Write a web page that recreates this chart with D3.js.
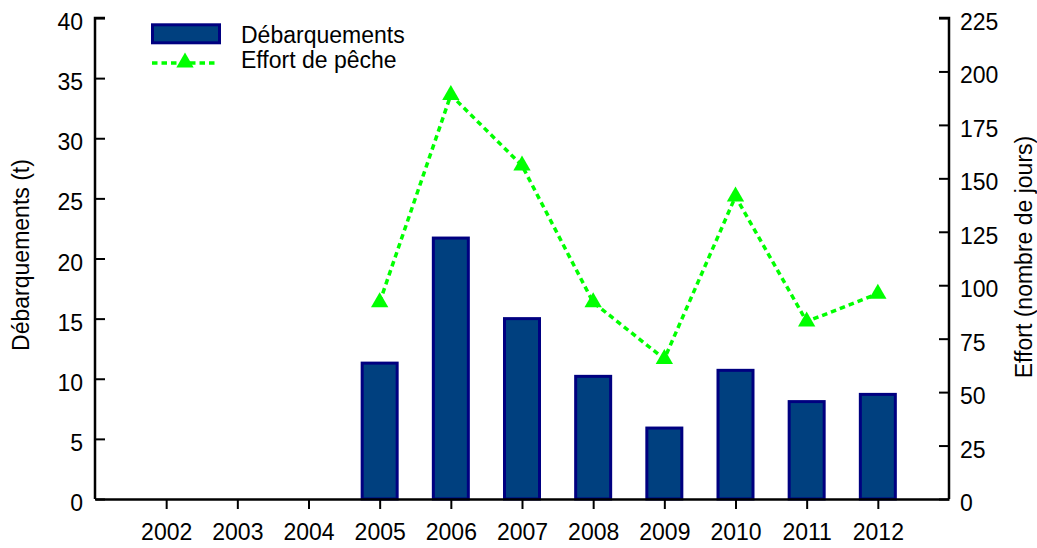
<!DOCTYPE html>
<html>
<head>
<meta charset="utf-8">
<script src="https://cdn.jsdelivr.net/npm/d3@7"></script>
<style>
  body { margin: 0; background: #fff; }
  svg { font-family: "Liberation Sans", Arial, sans-serif; }
</style>
</head>
<body>
<div id="chart"></div>
<script>
const years = ["2002", "2003", "2004", "2005", "2006", "2007", "2008", "2009", "2010", "2011", "2012"];
const debarquements = [null, null, null, 11.3, 21.7, 15.0, 10.2, 5.9, 10.7, 8.1, 8.7];
const effort = [null, null, null, 92, 189, 156, 92, 65.5, 141.5, 83, 96];
const leftTicks = [0, 5, 10, 15, 20, 25, 30, 35, 40];
const rightTicks = [0, 25, 50, 75, 100, 125, 150, 175, 200, 225];

const width = 1037;
const height = 548;
const margin = { top: 18, right: 88, bottom: 49, left: 95 };
const fontSize = 23;

const svg = d3
  .select("#chart")
  .append("svg")
  .attr("width", width)
  .attr("height", height);

const x = d3
  .scalePoint()
  .domain(years)
  .range([margin.left, width - margin.right])
  .padding(1);

const yL = d3.scaleLinear([0, 40], [height - margin.bottom, margin.top]);
const yR = d3.scaleLinear([0, 225], [height - margin.bottom, margin.top]);

const barW = 35;

// bars
svg
  .append("g")
  .selectAll("rect")
  .data(years.map((y, i) => ({ year: y, v: debarquements[i] })).filter((d) => d.v != null))
  .join("rect")
  .attr("x", (d) => x(d.year) - barW / 2)
  .attr("y", (d) => yL(d.v))
  .attr("width", barW)
  .attr("height", (d) => yL(0) - yL(d.v))
  .attr("fill", "#00407F")
  .attr("stroke", "#000080")
  .attr("stroke-width", 3);

// effort line
const pts = years.map((y, i) => ({ year: y, v: effort[i] })).filter((d) => d.v != null);
const line = d3
  .line()
  .x((d) => x(d.year))
  .y((d) => yR(d.v));

svg
  .append("path")
  .attr("fill", "none")
  .attr("stroke", "#00FF00")
  .attr("stroke-width", 3.5)
  .attr("stroke-dasharray", "5.5,4")
  .attr("d", line(pts));

const tri = d3.symbol().type(d3.symbolTriangle).size(130);
svg
  .append("g")
  .selectAll("path")
  .data(pts)
  .join("path")
  .attr("transform", (d) => `translate(${x(d.year)},${yR(d.v)})`)
  .attr("d", tri)
  .attr("fill", "#00FF00");

function styleText(g) {
  g.selectAll(".tick text")
    .attr("font-size", fontSize)
    .attr("font-family", "Liberation Sans, Arial, sans-serif")
    .attr("fill", "#000");
}

// left axis
svg
  .append("g")
  .attr("transform", `translate(${margin.left},0)`)
  .call(d3.axisRight(yL).tickValues(leftTicks).tickSize(10))
  .call((g) => g.select(".domain").attr("d", `M10,${margin.top}H0V${yL(0)}`).attr("stroke-width", 2.5))
  .call((g) => g.selectAll(".tick line").attr("stroke-width", 2))
  .call(styleText)
  .call((g) => g.selectAll(".tick text").attr("x", -12).attr("dy", "0.5em").attr("text-anchor", "end"));

// right axis
svg
  .append("g")
  .attr("transform", `translate(${width - margin.right},0)`)
  .call(d3.axisLeft(yR).tickValues(rightTicks).tickSize(10))
  .call((g) => g.select(".domain").attr("d", `M-10,${margin.top}H0V${yR(0)}`).attr("stroke-width", 2.5))
  .call((g) => g.selectAll(".tick line").attr("stroke-width", 2))
  .call(styleText)
  .call((g) => g.selectAll(".tick text").attr("x", 11).attr("dy", "0.5em").attr("text-anchor", "start"));

// bottom axis
svg
  .append("g")
  .attr("transform", `translate(0,${height - margin.bottom})`)
  .call(d3.axisBottom(x).tickSize(10).tickSizeOuter(0))
  .call((g) => g.select(".domain").attr("stroke-width", 2.5))
  .call((g) => g.selectAll(".tick line").attr("stroke-width", 2))
  .call(styleText)
  .call((g) => g.selectAll(".tick text").attr("y", 40.5).attr("dy", 0));

// axis titles
svg
  .append("text")
  .attr("transform", `translate(29,255) rotate(-90)`)
  .attr("text-anchor", "middle")
  .attr("font-size", fontSize)
  .text("Débarquements (t)");

svg
  .append("text")
  .attr("transform", `translate(1032,257) rotate(-90)`)
  .attr("text-anchor", "middle")
  .attr("font-size", fontSize)
  .text("Effort (nombre de jours)");

// legend
const lg = svg.append("g");
lg.append("rect")
  .attr("x", 152.5)
  .attr("y", 24.8)
  .attr("width", 67)
  .attr("height", 18)
  .attr("fill", "#00407F")
  .attr("stroke", "#000080")
  .attr("stroke-width", 3);
lg.append("text").attr("x", 241).attr("y", 43).attr("font-size", fontSize).text("Débarquements");

lg.append("line")
  .attr("x1", 152)
  .attr("x2", 216)
  .attr("y1", 63)
  .attr("y2", 63)
  .attr("stroke", "#00FF00")
  .attr("stroke-width", 3.5)
  .attr("stroke-dasharray", "5.5,4");
lg.append("path")
  .attr("transform", "translate(185,62.5)")
  .attr("d", tri)
  .attr("fill", "#00FF00");
lg.append("text").attr("x", 241).attr("y", 68).attr("font-size", fontSize).text("Effort de pêche");
</script>
</body>
</html>
